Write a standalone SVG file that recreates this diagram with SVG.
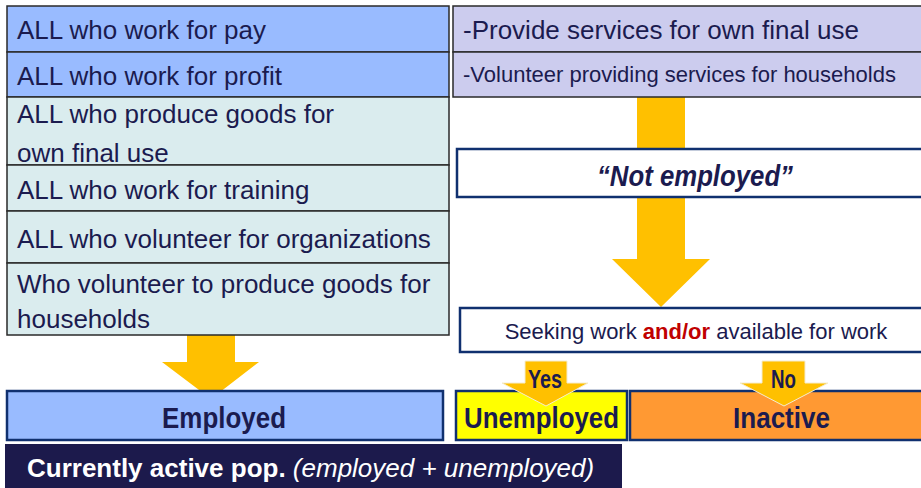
<svg xmlns="http://www.w3.org/2000/svg" width="921" height="488" viewBox="0 0 921 488">
<style>
.t{font-family:"Liberation Sans",Arial,sans-serif;fill:#1B1B4F;font-size:26px}
.s{font-size:22px}
.b{font-weight:bold}
.big{font-size:29px}
.row{stroke:#2A2A2A;stroke-width:1.5}
.blue{fill:#99BBFF}
.cyan{fill:#DAECEE}
.lav{fill:#CCCCEE}
.nbox{fill:#FFFFFF;stroke:#10306F;stroke-width:2.5}
.out{stroke:#10306F;stroke-width:2.5}
.arr{fill:#FFC000}
.sarr{fill:#FFC000;stroke:#F4ECD0;stroke-width:1}
</style>
<rect width="921" height="488" fill="#FFFFFF"/>
<g id="connectors">
<rect class="arr" x="637" y="97" width="48" height="52"/>
<polygon class="arr" points="637,197 685,197 685,259 710,259 661,307 612,259 637,259"/>
<polygon class="arr" points="187,335 235,335 235,362 259,362 211,399 162,362 187,362"/>
</g>
<g id="left-pay"><rect class="row blue" x="7" y="6" width="442" height="46"/><text class="t" x="17" y="39">ALL who work for pay</text></g>
<g id="left-profit"><rect class="row blue" x="7" y="52" width="442" height="45"/><text class="t" x="17" y="85">ALL who work for profit</text></g>
<g id="left-goods"><rect class="row cyan" x="7" y="97" width="442" height="68"/><text class="t" x="17" y="123">ALL who produce goods for</text><text class="t" x="17" y="162">own final use</text></g>
<g id="left-training"><rect class="row cyan" x="7" y="165" width="442" height="46"/><text class="t" x="17" y="199">ALL who work for training</text></g>
<g id="left-volorg"><rect class="row cyan" x="7" y="211" width="442" height="52"/><text class="t" x="17" y="248">ALL who volunteer for organizations</text></g>
<g id="left-volhh"><rect class="row cyan" x="7" y="263" width="442" height="72"/><text class="t" x="17" y="293">Who volunteer to produce goods for</text><text class="t" x="17" y="328">households</text></g>
<g id="right-services"><rect class="row lav" x="453" y="6" width="480" height="46"/><text class="t" x="463" y="39">-Provide services for own final use</text></g>
<g id="right-volunteer"><rect class="row lav" x="453" y="52" width="480" height="45"/><text class="t s" x="463" y="82">-Volunteer providing services for households</text></g>
<g id="not-employed"><rect class="nbox" x="457" y="149" width="480" height="48"/><text class="t b big" x="597" y="186" font-style="italic" textLength="196" lengthAdjust="spacingAndGlyphs">“Not employed”</text></g>
<g id="seeking"><rect class="nbox" x="460" y="308" width="480" height="44"/><text class="t s" x="696" y="339" text-anchor="middle">Seeking work <tspan class="b" fill="#C00000">and/or</tspan> available for work</text></g>
<g id="employed"><rect class="out" fill="#99BBFF" x="7" y="391" width="436" height="49"/><text class="t b big" x="162" y="428" textLength="124" lengthAdjust="spacingAndGlyphs">Employed</text></g>
<g id="unemployed"><rect class="out" fill="#FFFF00" x="456" y="391" width="171" height="49"/><text class="t b big" x="464" y="428" textLength="155" lengthAdjust="spacingAndGlyphs">Unemployed</text></g>
<g id="inactive"><rect class="out" fill="#FF9933" x="630" y="391" width="300" height="49"/><text class="t b big" x="733" y="428" textLength="97" lengthAdjust="spacingAndGlyphs">Inactive</text></g>
<g id="yes-arrow"><polygon class="sarr" points="525,361 567,361 567,383 588,383 546,406 502,383 525,383"/><text class="t b" x="528" y="388" font-size="21" textLength="34" lengthAdjust="spacingAndGlyphs">Yes</text></g>
<g id="no-arrow"><polygon class="sarr" points="762,361 805,361 805,383 828,383 784,406 740,383 762,383"/><text class="t b" x="771" y="388" font-size="21" textLength="25" lengthAdjust="spacingAndGlyphs">No</text></g>
<g id="active-pop"><rect fill="#1C1A4C" x="5" y="444" width="617" height="50"/><text class="t b" x="27" y="477" style="fill:#FFFFFF">Currently active pop.<tspan font-weight="normal" font-style="italic"> (employed + unemployed)</tspan></text></g>
</svg>
